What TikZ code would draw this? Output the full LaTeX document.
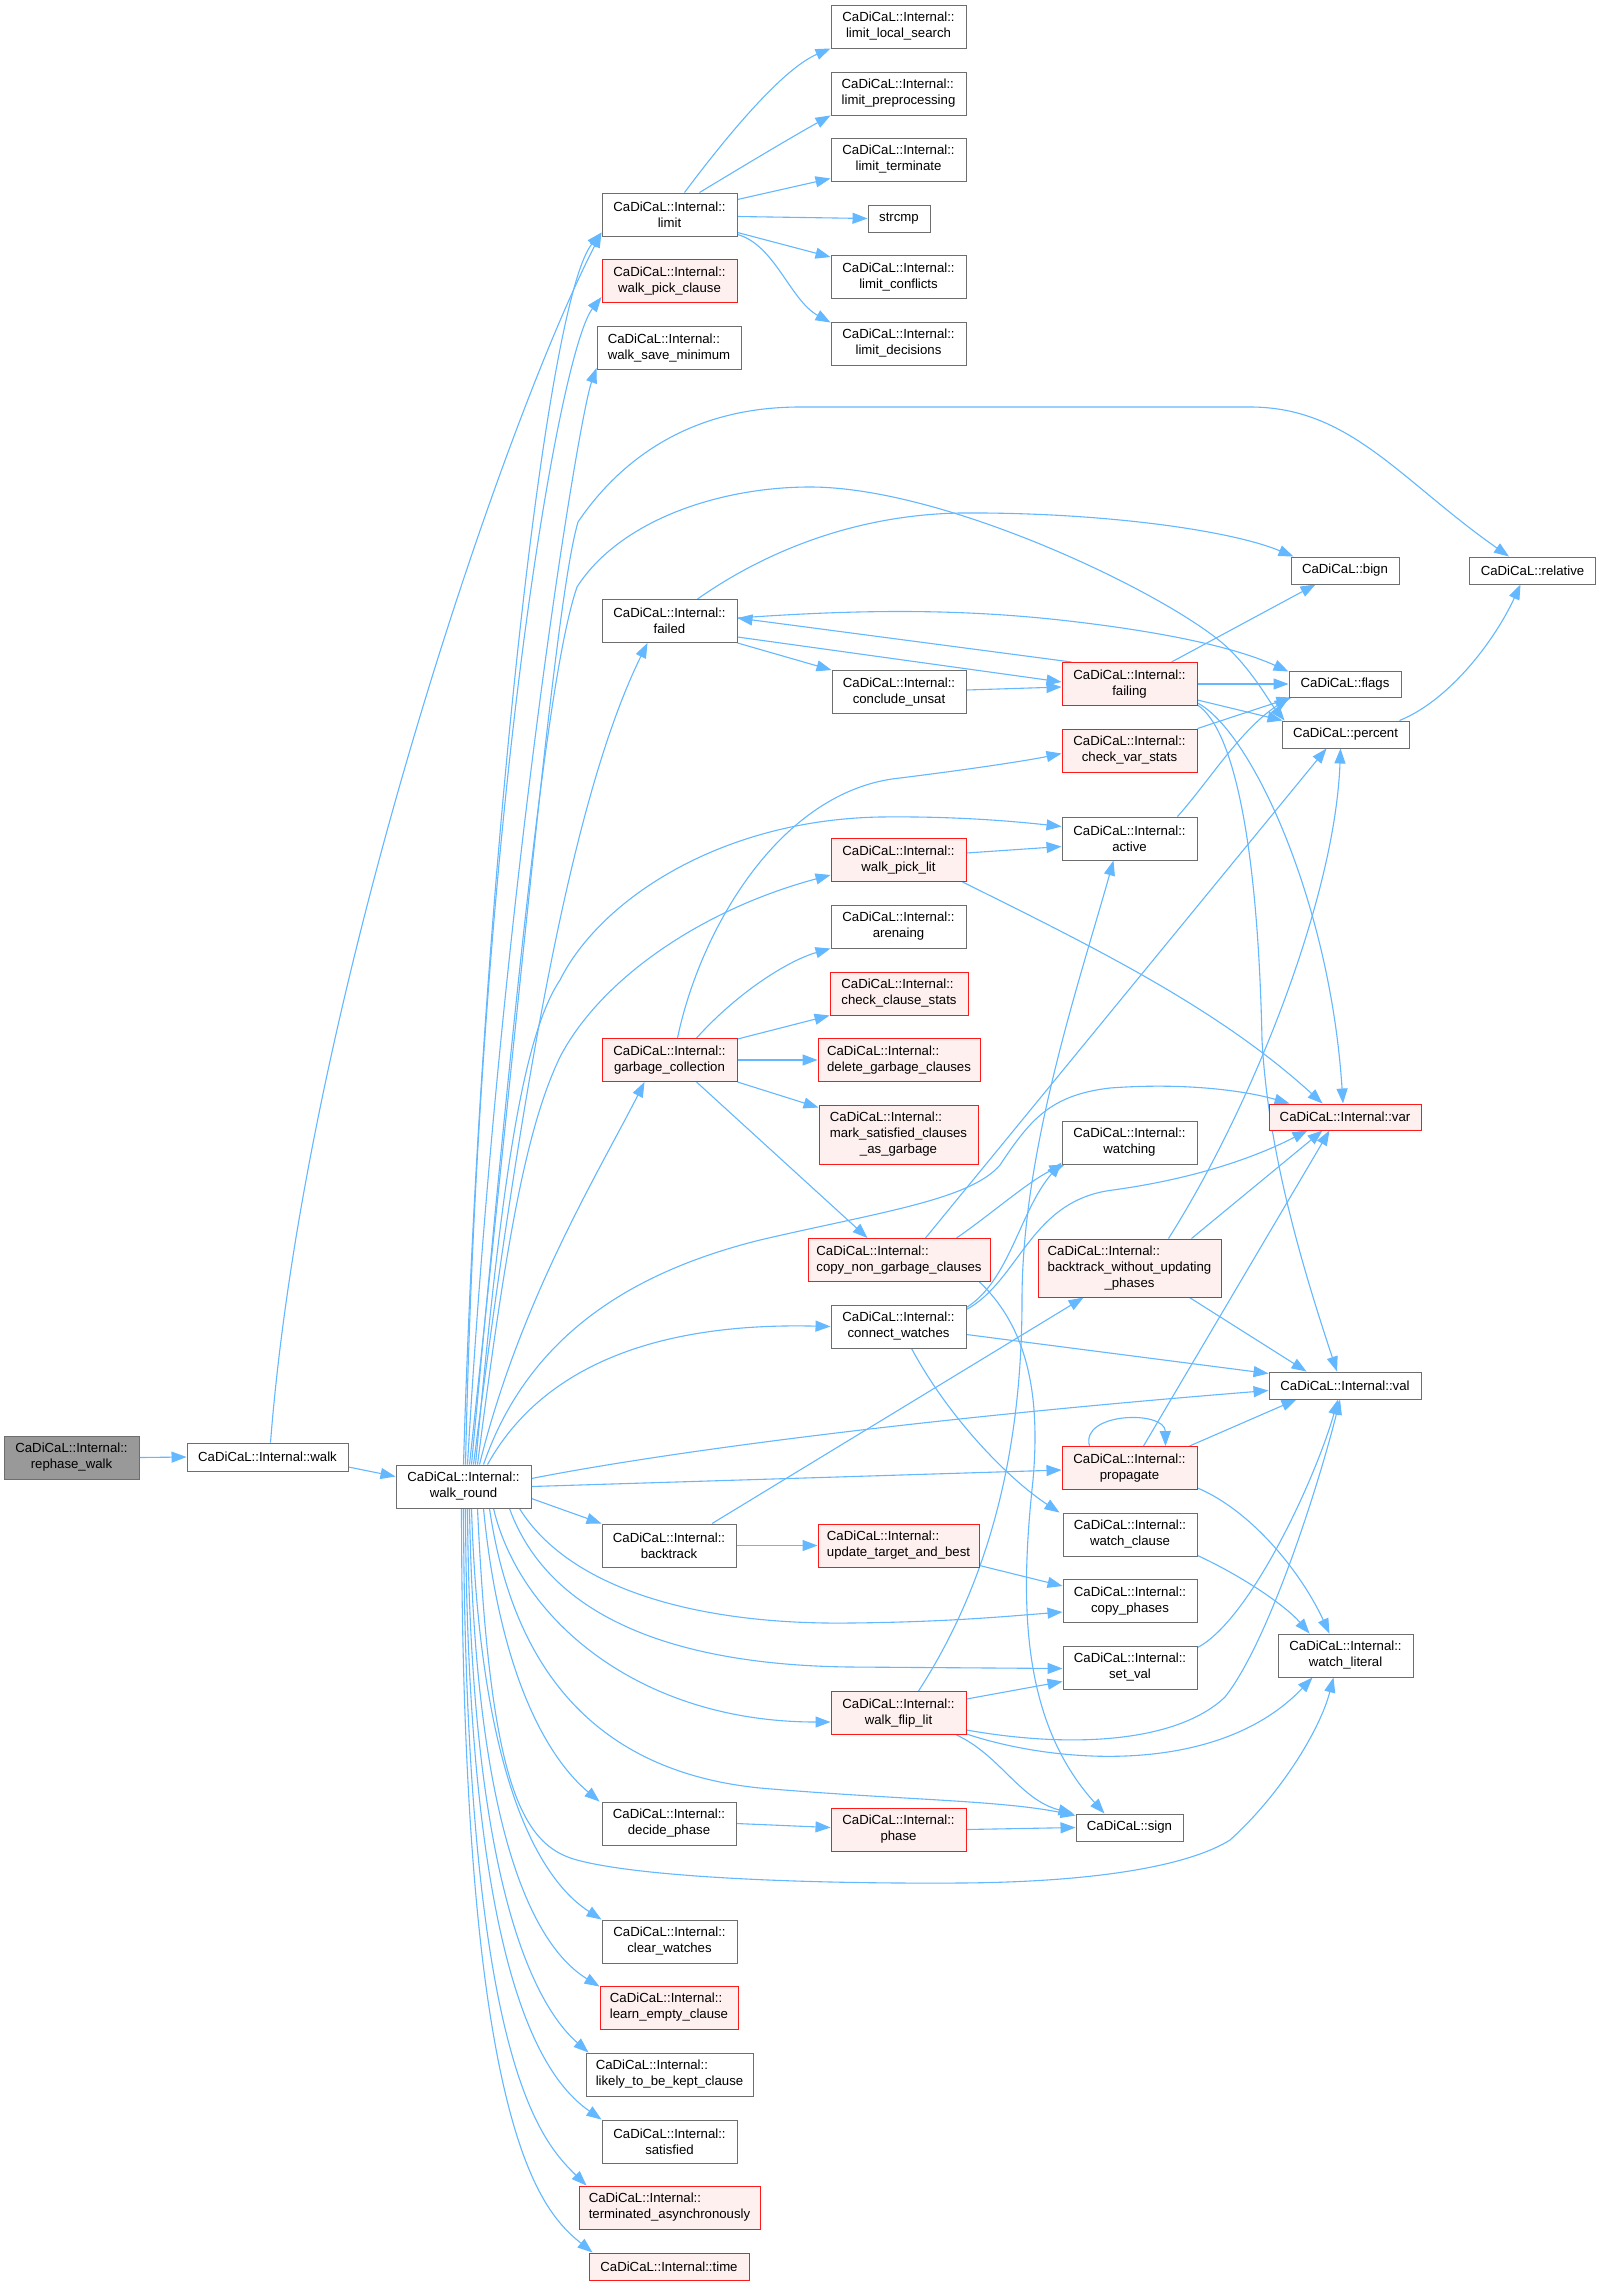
\documentclass[tikz,border=0pt]{standalone}
\usepackage{fontspec}
\setmainfont{Liberation Sans}
\usetikzlibrary{arrows.meta,calc,backgrounds}
\definecolor{edgec}{HTML}{63B8FF}
\definecolor{nodeb}{HTML}{6E6E6E}
\definecolor{redfill}{HTML}{FFF0F0}
\definecolor{hlfill}{HTML}{999999}
\definecolor{redb}{HTML}{FF1A1A}
\newcommand\cdctr[1]{CaDiCaL::Internal::\\#1}
\newcommand\cdlft[1]{\rlap{CaDiCaL::Internal::}\phantom{#1}\\#1}
\begin{document}
\begin{tikzpicture}[x=1pt,y=-1pt,
  every node/.style={font=\fontsize{13.2}{16}\selectfont},
  box/.style={draw=nodeb, fill=white, line width=0.95pt, inner sep=0pt, align=center, minimum height=43pt, minimum width=135pt},
  redbox/.style={box, draw=redb, fill=redfill},
  hlbox/.style={box, fill=hlfill},
  e/.style={draw=edgec, line width=1.1pt, -{Triangle[length=15pt,width=11pt]}}]
\useasboundingbox (0,0) rectangle (1600,2285);
% nodes
\node[hlbox] (rephase) at (71.5,1457.5) {\cdctr{rephase\_walk}};
\node[box, minimum width=161pt, minimum height=28pt] (walk) at (267.5,1457) {CaDiCaL::Internal::walk};
\node[box] (wround) at (463.5,1486.5) {\cdctr{walk\_round}};
\node[box] (limit) at (669.5,214.5) {\cdctr{limit}};
\node[redbox] (wpc) at (669.5,281) {\cdctr{walk\_pick\_clause}};
\node[box, minimum width=144pt] (wsm) at (669,348) {\cdlft{walk\_save\_minimum}};
\node[box] (lls) at (898.5,26.5) {\cdctr{limit\_local\_search}};
\node[box] (lpp) at (898.5,93.5) {\cdlft{limit\_preprocessing}};
\node[box] (lterm) at (898.5,159.5) {\cdctr{limit\_terminate}};
\node[box, minimum width=62pt, minimum height=27pt] (strcmp) at (899,218.5) {strcmp};
\node[box] (lconf) at (898.5,277) {\cdctr{limit\_conflicts}};
\node[box] (ldec) at (898.5,343.5) {\cdctr{limit\_decisions}};
\node[box, minimum width=126pt, minimum height=27pt] (relative) at (1532.5,570.5) {CaDiCaL::relative};
\node[box, minimum width=108pt, minimum height=27pt] (bign) at (1345,570.5) {CaDiCaL::bign};
\node[box] (failed) at (669.5,621) {\cdctr{failed}};
\node[box, minimum width=134pt] (cunsat) at (899,692) {\cdctr{conclude\_unsat}};
\node[redbox] (failing) at (1129.5,684) {\cdctr{failing}};
\node[box, minimum width=112pt, minimum height=26pt] (flags) at (1345,684) {CaDiCaL::flags};
\node[box, minimum width=127pt, minimum height=27pt] (percent) at (1345.5,734.5) {CaDiCaL::percent};
\node[redbox] (cvs) at (1129.5,750.5) {\cdctr{check\_var\_stats}};
\node[box] (active) at (1129.5,838.5) {\cdctr{active}};
\node[redbox] (wpl) at (898.5,860) {\cdctr{walk\_pick\_lit}};
\node[box] (arena) at (898.5,926.5) {\cdctr{arenaing}};
\node[redbox, minimum width=138pt] (ccs) at (899,993.5) {\cdlft{check\_clause\_stats}};
\node[redbox] (gc) at (669.5,1060) {\cdctr{garbage\_collection}};
\node[redbox, minimum width=162pt] (dgc) at (899,1060) {\cdlft{delete\_garbage\_clauses}};
\node[redbox, minimum width=159pt, minimum height=59pt] (msc) at (898.5,1134.5) {\rlap{CaDiCaL::Internal::}\phantom{mark\_satisfied\_clauses}\\mark\_satisfied\_clauses\\\_as\_garbage};
\node[box] (watching) at (1129.5,1142.5) {\cdctr{watching}};
\node[redbox, minimum width=152pt, minimum height=26pt] (var) at (1345,1117) {CaDiCaL::Internal::var};
\node[redbox, minimum width=182pt] (cngc) at (899,1260) {\cdlft{copy\_non\_garbage\_clauses}};
\node[redbox, minimum width=183pt, minimum height=58pt] (bwup) at (1129.5,1268) {\rlap{CaDiCaL::Internal::}\phantom{backtrack\_without\_updating}\\backtrack\_without\_updating\\\_phases};
\node[box] (cw) at (898.5,1326.5) {\cdctr{connect\_watches}};
\node[box, minimum width=152pt, minimum height=27pt] (val) at (1345,1385.5) {CaDiCaL::Internal::val};
\node[redbox] (prop) at (1129.5,1468) {\cdctr{propagate}};
\node[box, minimum width=134pt] (bt) at (669,1545.5) {\cdctr{backtrack}};
\node[redbox, minimum width=161pt] (utab) at (898.5,1545.5) {\cdlft{update\_target\_and\_best}};
\node[box, minimum width=134pt] (wcl) at (1130,1534.5) {\cdctr{watch\_clause}};
\node[box, minimum width=134pt] (cph) at (1130,1601) {\cdctr{copy\_phases}};
\node[box, minimum width=134pt] (setval) at (1130,1667.5) {\cdctr{set\_val}};
\node[box] (wlit) at (1345.5,1655.5) {\cdctr{watch\_literal}};
\node[redbox] (wfl) at (898.5,1713) {\cdctr{walk\_flip\_lit}};
\node[box, minimum width=107pt, minimum height=27pt] (sign) at (1129.5,1827.5) {CaDiCaL::sign};
\node[box, minimum width=134pt] (dph) at (669,1823.5) {\cdctr{decide\_phase}};
\node[redbox] (phase) at (898.5,1829.5) {\cdctr{phase}};
\node[box] (clw) at (669.5,1941.5) {\cdctr{clear\_watches}};
\node[redbox, minimum width=138pt] (lec) at (669,2007.5) {\cdlft{learn\_empty\_clause}};
\node[box, minimum width=167pt] (lkc) at (669.5,2074.5) {\cdlft{likely\_to\_be\_kept\_clause}};
\node[box] (sat) at (669.5,2141.5) {\cdctr{satisfied}};
\node[redbox, minimum width=181pt] (tasync) at (669.5,2207.5) {\cdlft{terminated\_asynchronously}};
\node[redbox, minimum width=160pt, minimum height=27pt] (time) at (669,2266.5) {CaDiCaL::Internal::time};
% edges
\begin{scope}[on background layer]
\fill[white] (0,0) rectangle (1600,2285);
\draw[e] (rephase.east) -- (walk.west);
\draw[e] ($(walk.east)+(0,10)$) -- ($(wround.west)+(0,-10)$);
\draw[e] ($(walk.north)+(3,0)$) .. controls (305,1000) and (505,420) .. ($(limit.south west)+(0,-4)$);
% limit
\draw[e] ($(limit.north)+(15,0)$) .. controls (720,145) and (780,70) .. (lls.south west);
\draw[e] ($(limit.north)+(30,0)$) .. controls (740,168) and (790,138) .. (lpp.south west);
\draw[e] ($(limit.east)+(0,-15)$) -- ($(lterm.south west)+(0,-3)$);
\draw[e] ($(limit.east)+(0,2)$) -- (strcmp.west);
\draw[e] ($(limit.east)+(0,18)$) -- ($(lconf.north west)+(0,2)$);
\draw[e] ($(limit.south east)+(0,-2)$) .. controls (775,245) and (790,300) .. ($(ldec.north west)+(0,1)$);
% walk_round upward
\draw[e] (wround.north) .. controls (480,900) and (545,300) .. ($(limit.south west)+(0,-4)$);
\draw[e] ($(wround.north)+(2,0)$) .. controls (480,800) and (560,350) .. ($(wpc.west)+(0,16)$);
\draw[e] ($(wround.north)+(4,0)$) .. controls (500,900) and (578,420) .. ($(wsm.south west)+(0,-2)$);
\draw[e] ($(wround.north)+(6,0)$) .. controls (520,1000) and (555,600) .. (578,522) .. controls (620,460) and (690,407) .. (800,407) -- (1250,407) .. controls (1350,407) and (1400,480) .. ($(relative.north west)+(40,0)$);
\draw[e] ($(wround.north)+(8,0)$) .. controls (510,1050) and (545,680) .. (577,587) .. controls (620,520) and (720,487) .. (810,487) .. controls (950,487) and (1180,600) .. (1230,650) .. controls (1255,675) and (1268,700) .. ($(percent.north west)+(3,0)$);
\draw[e] ($(wround.north)+(10,0)$) .. controls (520,1100) and (570,800) .. ($(failed.south)+(-22,0)$);
\draw[e] ($(wround.north)+(12,0)$) .. controls (500,1200) and (520,1040) .. (560,980) .. controls (600,900) and (720,820) .. (880,817) .. controls (960,816) and (1020,822) .. ($(active.west)+(0,-12)$);
\draw[e] ($(wround.north)+(14,0)$) .. controls (505,1250) and (525,1130) .. (560,1057) .. controls (600,980) and (700,910) .. ($(wpl.west)+(0,15)$);
\draw[e] ($(wround.north)+(16,0)$) .. controls (520,1300) and (600,1170) .. ($(gc.south west)+(43,0)$);
\draw[e] ($(wround.north)+(20,0)$) .. controls (530,1330) and (640,1270) .. (760,1240) .. controls (880,1212) and (970,1200) .. (1000,1165) .. controls (1030,1120) and (1050,1095) .. (1110,1088) .. controls (1190,1082) and (1250,1092) .. ($(var.north west)+(21,0)$);
\draw[e] ($(wround.north)+(24,0)$) .. controls (540,1370) and (650,1322) .. (cw.west);
\draw[e] ($(wround.east)+(0,-8)$) .. controls (650,1455) and (900,1420) .. ($(val.west)+(0,5)$);
\draw[e] (wround.east) -- ($(prop.west)+(0,2)$);
\draw[e] ($(wround.east)+(0,12)$) -- (bt.north west);
\draw[e] ($(wround.south east)+(-12,0)$) .. controls (570,1590) and (700,1625) .. (850,1623) .. controls (950,1622) and (1010,1616) .. ($(cph.west)+(0,11)$);
\draw[e] ($(wround.south east)+(-22,0)$) .. controls (550,1620) and (680,1665) .. (850,1667) -- ($(setval.west)+(0,1)$);
\draw[e] ($(wround.south)+(30,0)$) .. controls (520,1620) and (640,1722) .. ($(wfl.west)+(0,9)$);
\draw[e] ($(wround.south)+(26,0)$) .. controls (510,1650) and (580,1770) .. (760,1788) .. controls (900,1800) and (1000,1800) .. ($(sign.north west)+(0,2)$);
\draw[e] ($(wround.south)+(20,0)$) .. controls (500,1680) and (550,1760) .. ($(dph.north west)+(-2,0)$);
\draw[e] ($(wround.south)+(14,0)$) .. controls (490,1780) and (520,1845) .. (577,1860) .. controls (640,1877) and (800,1884) .. (960,1883) .. controls (1100,1882) and (1190,1865) .. (1230,1840) .. controls (1280,1795) and (1320,1730) .. ($(wlit.south)+(-12,0)$);
\draw[e] ($(wround.south)+(8,0)$) .. controls (480,1780) and (540,1880) .. (clw.north west);
\draw[e] ($(wround.south)+(6,0)$) .. controls (475,1850) and (540,1950) .. ($(lec.north west)+(0,1)$);
\draw[e] ($(wround.south)+(4,0)$) .. controls (470,1900) and (540,2010) .. ($(lkc.north west)+(3,0)$);
\draw[e] ($(wround.south)+(2,0)$) .. controls (467,1980) and (545,2080) .. (sat.north west);
\draw[e] (wround.south) .. controls (465,2060) and (540,2140) .. ($(tasync.north west)+(8,0)$);
\draw[e] ($(wround.south)+(-2,0)$) .. controls (462,2130) and (540,2210) .. ($(time.north west)+(4,0)$);
% failed
\draw[e] (failed.south east) -- (cunsat.north west);
\draw[e] ($(failed.east)+(0,16)$) -- ($(failing.west)+(0,-2)$);
\draw[e] ($(failed.east)+(0,-3)$) .. controls (850,610) and (950,608) .. (1060,620) .. controls (1150,630) and (1230,645) .. ($(flags.north west)+(0,1)$);
\draw[e] ($(failing.north west)+(10,0)$) -- ($(failed.east)+(0,-3)$);
\draw[e] ($(failed.north)+(28,0)$) .. controls (760,555) and (850,515) .. (960,513) .. controls (1100,512) and (1230,530) .. ($(bign.north west)+(3,0)$);
\draw[e] ($(cunsat.east)+(0,-2)$) -- ($(failing.west)+(0,3)$);
% failing
\draw[e] ($(failing.north)+(42,0)$) -- ($(bign.south west)+(25,0)$);
\draw[e] (failing.east) -- (flags.west);
\draw[e] ($(failing.east)+(0,16)$) -- ($(percent.north west)+(1,0)$);
\draw[e] ($(failing.south east)+(0,-3)$) .. controls (1250,730) and (1330,900) .. ($(var.north)+(-2,0)$);
\draw[e] ($(failing.south east)+(0,-1)$) .. controls (1235,730) and (1258,850) .. (1262,1040) .. controls (1268,1150) and (1300,1260) .. ($(val.north)+(-8,0)$);
\draw[e] (cvs.north east) -- ($(flags.south west)+(3,0)$);
\draw[e] ($(active.north east)+(-20,0)$) .. controls (1210,780) and (1240,730) .. ($(flags.south west)+(1,0)$);
\draw[e] ($(percent.north east)+(-10,0)$) .. controls (1450,700) and (1495,640) .. ($(relative.south)+(-12,0)$);
% garbage collection
\draw[e] ($(gc.north)+(8,0)$) .. controls (700,930) and (780,790) .. (900,778) .. controls (980,768) and (1030,760) .. ($(cvs.west)+(0,3)$);
\draw[e] ($(gc.north)+(27,0)$) .. controls (740,990) and (790,960) .. (arena.south west);
\draw[e] ($(gc.north east)+(0,1)$) -- (ccs.south west);
\draw[e] (gc.east) -- (dgc.west);
\draw[e] (gc.south east) -- ($(msc.north west)+(0,3)$);
\draw[e] ($(gc.south)+(27,0)$) -- ($(cngc.north west)+(60,0)$);
% walk_pick_lit
\draw[e] ($(wpl.east)+(0,-7)$) -- ($(active.west)+(0,8)$);
\draw[e] ($(wpl.south east)+(-4,0)$) .. controls (1100,950) and (1220,1010) .. ($(var.north west)+(54,0)$);
% copy_non_garbage_clauses
\draw[e] ($(cngc.north east)+(-34,0)$) .. controls (990,1215) and (1030,1180) .. ($(watching.south west)+(3,0)$);
\draw[e] ($(cngc.north east)+(-65,0)$) -- ($(percent.south west)+(45,0)$);
\draw[e] ($(cngc.south east)+(-11,0)$) .. controls (1030,1330) and (1040,1400) .. (1033,1480) .. controls (1020,1600) and (1020,1720) .. ($(sign.north)+(-25,0)$);
% connect_watches
\draw[e] ($(cw.north east)+(0,3)$) .. controls (1010,1280) and (1020,1210) .. ($(watching.south west)+(0,-2)$);
\draw[e] ($(cw.north east)+(0,5)$) .. controls (1020,1280) and (1030,1200) .. (1113,1190) .. controls (1200,1178) and (1260,1155) .. ($(var.south west)+(39,0)$);
\draw[e] ($(cw.east)+(0,8)$) -- ($(val.west)+(0,-12)$);
\draw[e] ($(cw.south)+(13,0)$) .. controls (950,1420) and (1010,1480) .. ($(wcl.north west)+(-3,0)$);
% backtrack_without_updating_phases
\draw[e] ($(bwup.north east)+(-30,0)$) -- ($(var.south west)+(54,0)$);
\draw[e] ($(bwup.north east)+(-53,0)$) .. controls (1250,1110) and (1335,900) .. ($(percent.south)+(-5,0)$);
\draw[e] ($(bwup.south east)+(-32,0)$) -- ($(val.north west)+(38,0)$);
% backtrack
\draw[e] ($(bt.north)+(43,0)$) -- ($(bwup.south west)+(46,0)$);
\draw[e] (bt.east) -- (utab.west);
\draw[e] ($(utab.south east)+(0,-2)$) -- ($(cph.west)+(0,-15)$);
\draw[e] ($(wcl.south east)+(0,-1)$) .. controls (1240,1575) and (1285,1605) .. ($(wlit.north west)+(32,0)$);
% propagate
\draw[e] ($(prop.north)+(-40,0)$) .. controls (1080,1412) and (1165,1410) .. ($(prop.north)+(36,0)$);
\draw[e] ($(prop.north)+(14,0)$) -- ($(var.south west)+(61,0)$);
\draw[e] ($(prop.north east)+(-8,0)$) -- ($(val.south west)+(28,0)$);
\draw[e] ($(prop.south east)+(0,-2)$) .. controls (1250,1510) and (1300,1570) .. ($(wlit.north)+(-16,0)$);
\draw[e] ($(setval.north east)+(0,2)$) .. controls (1250,1620) and (1315,1480) .. ($(val.south)+(-7,0)$);
% walk_flip_lit
\draw[e] ($(wfl.north)+(20,0)$) .. controls (990,1580) and (1022,1450) .. (1022,1300) .. controls (1022,1150) and (1080,980) .. ($(active.south)+(-16,0)$);
\draw[e] ($(wfl.east)+(0,-14)$) -- ($(setval.south west)+(0,-8)$);
\draw[e] ($(wfl.east)+(0,17)$) .. controls (1080,1750) and (1180,1740) .. (1225,1697) .. controls (1270,1640) and (1320,1480) .. ($(val.south)+(-5,0)$);
\draw[e] ($(wfl.south east)+(0,-1)$) .. controls (1060,1765) and (1220,1775) .. ($(wlit.south west)+(35,0)$);
\draw[e] ($(wfl.south east)+(-10,0)$) .. controls (1000,1755) and (1020,1800) .. ($(sign.north west)+(-2,0)$);
\draw[e] (dph.east) -- ($(phase.west)+(0,-2)$);
\draw[e] (phase.east) -- (sign.west);
\end{scope}
\end{tikzpicture}
\end{document}
